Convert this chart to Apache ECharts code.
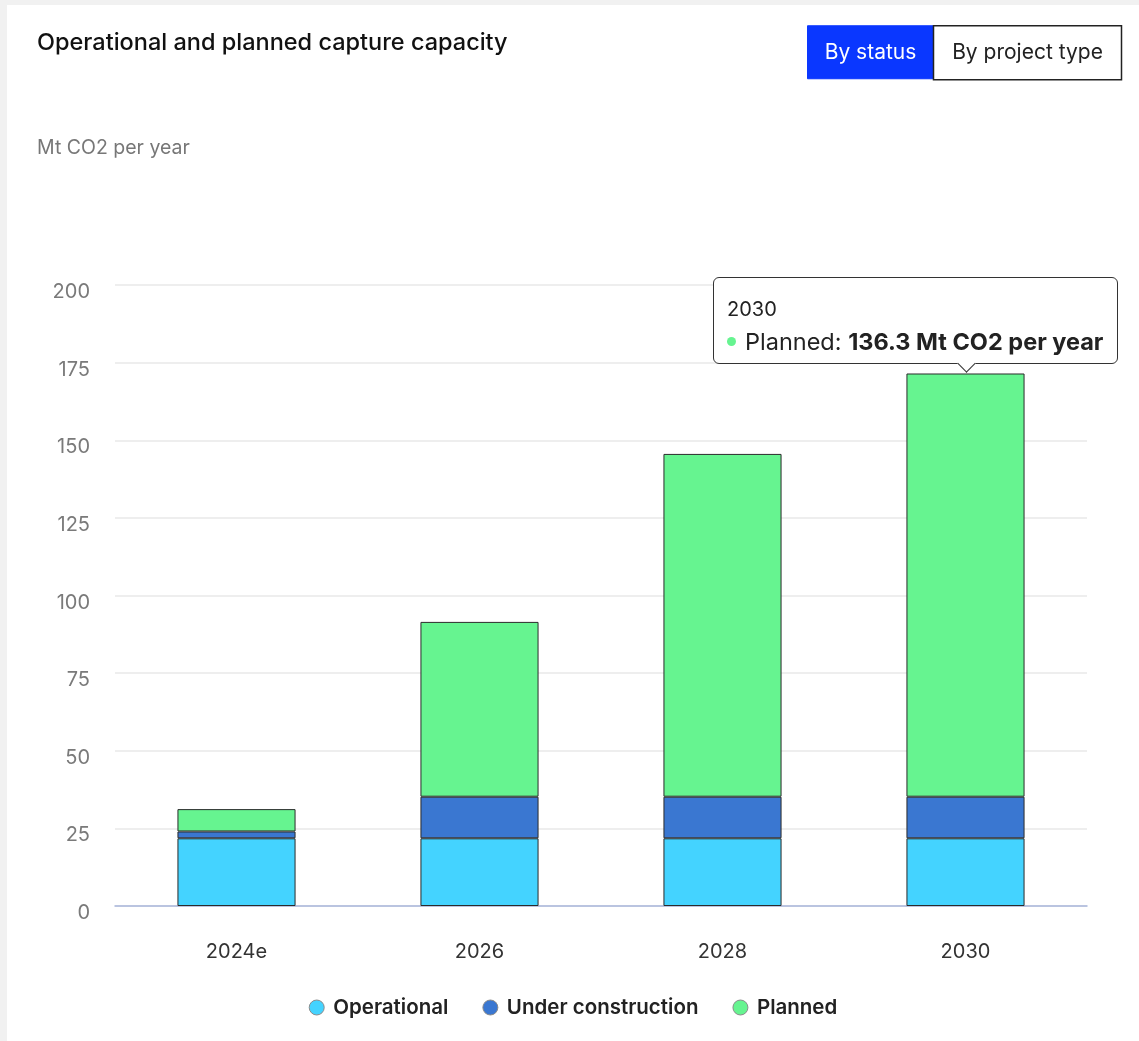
<!DOCTYPE html>
<html>
<head>
<meta charset="utf-8">
<title>Operational and planned capture capacity</title>
<script src="https://cdn.jsdelivr.net/npm/echarts@6/dist/echarts.min.js"></script>
<style>
  html, body { margin: 0; padding: 0; width: 1139px; height: 1041px; overflow: hidden; background: #f1f1f1; }
  #chart { position: absolute; left: 7px; top: 5px; width: 1132px; height: 1036px; background: #ffffff; }
</style>
</head>
<body>
<div id="chart"></div>
<script>
// Capture capacity by project status, Mt CO2 per year
const categories = ['2024e', '2026', '2028', '2030'];
const operational = [21.8, 21.8, 21.8, 21.8];
const underConstruction = [2.2, 13.4, 13.4, 13.4];
const planned = [7.2, 56.3, 110.4, 136.3];
const yTicks = [0, 25, 50, 75, 100, 125, 150, 175, 200];

const FONT = 'Inter, "Noto Sans", sans-serif';
const unit = 'Mt CO2 per year';

const colors = {
  operational: '#44d3ff',
  underConstruction: '#3a77d1',
  planned: '#66f490'
};

const chart = echarts.init(document.getElementById('chart'), null, { renderer: 'canvas' });

function barSeries(name, data, color) {
  return {
    name: name,
    type: 'bar',
    stack: 'status',
    data: data,
    barWidth: '48.6%',
    itemStyle: { color: color, borderColor: '#2b2b2b', borderWidth: 1 },
    emphasis: { disabled: true }
  };
}

const option = {
  animation: false,
  textStyle: { fontFamily: FONT },
  title: [
    {
      text: 'Operational and planned capture capacity',
      left: 30, top: 26, padding: 0,
      textStyle: { fontFamily: FONT, fontSize: 23.5, fontWeight: 500, color: '#111111' }
    },
    {
      text: unit,
      left: 30, top: 133, padding: 0,
      textStyle: { fontFamily: FONT, fontSize: 19.5, fontWeight: 400, color: '#777777' }
    }
  ],
  graphic: [
    {
      type: 'group', left: 800, top: 20,
      children: [
        { type: 'rect', shape: { x: 0, y: 0, width: 126, height: 53 },
          style: { fill: '#0a37ff', stroke: '#0a37ff', lineWidth: 1 } },
        { type: 'text', x: 63, y: 26.5,
          style: { text: 'By status', fill: '#ffffff', font: '400 21px ' + FONT, align: 'center', verticalAlign: 'middle' } },
        { type: 'rect', shape: { x: 126, y: 0, width: 188, height: 54 },
          style: { fill: '#ffffff', stroke: '#222222', lineWidth: 1.5 } },
        { type: 'text', x: 220, y: 27,
          style: { text: 'By project type', fill: '#222222', font: '400 21px ' + FONT, align: 'center', verticalAlign: 'middle' } }
      ]
    }
  ],
  grid: { left: 108, right: 52, top: 280, bottom: 135 },
  xAxis: {
    type: 'category',
    data: categories,
    axisLine: { show: true, lineStyle: { color: '#a9b6dc', width: 1.5 } },
    axisTick: { show: false },
    axisLabel: { color: '#333333', fontSize: 20, margin: 36, fontFamily: FONT }
  },
  yAxis: {
    type: 'value',
    min: yTicks[0],
    max: yTicks[yTicks.length - 1],
    interval: yTicks[1] - yTicks[0],
    axisLine: { show: false },
    axisTick: { show: false },
    axisLabel: {
      color: '#7a7a7a', fontSize: 20, margin: 25, fontFamily: FONT,
      verticalAlign: 'top', lineHeight: 14
    },
    splitLine: { lineStyle: { color: '#e8e8e8', width: 1.5 } }
  },
  legend: {
    bottom: 18,
    left: 'center',
    icon: 'circle',
    itemWidth: 15,
    itemHeight: 15,
    itemGap: 34,
    selectedMode: false,
    itemStyle: { borderColor: '#8a8a8a', borderWidth: 1 },
    textStyle: { fontFamily: FONT, fontSize: 20.5, fontWeight: 600, color: '#222222', padding: [0, 0, 0, 4] },
    data: ['Operational', 'Under construction', 'Planned']
  },
  tooltip: {
    trigger: 'item',
    triggerOn: 'none',
    alwaysShowContent: true,
    backgroundColor: '#ffffff',
    borderColor: '#333333',
    borderWidth: 1,
    padding: [18, 14, 8, 13],
    extraCssText: 'border-radius:6px; box-shadow:none; overflow:visible;',
    textStyle: { fontFamily: FONT, color: '#222222' },
    formatter: function (p) {
      return '<div style="position:relative;">' +
        '<div style="font-size:20px;line-height:26px;font-weight:400;color:#222;margin-bottom:7px;">' + p.name + '</div>' +
        '<div style="font-size:23.5px;line-height:26px;color:#222;white-space:nowrap;">' +
        '<span style="display:inline-block;width:9px;height:9px;border-radius:50%;background:' + p.color +
        ';margin-right:9px;vertical-align:middle;position:relative;top:-2px;"></span>' +
        p.seriesName + ': <b>' + p.value + ' ' + unit + '</b></div>' +
        '</div>' +
        '<div class="tip-arrow" style="position:absolute;bottom:-7px;width:12px;height:12px;background:#fff;' +
        'border-right:1px solid #333;border-bottom:1px solid #333;transform:rotate(45deg);"></div>';
    },
    position: function (point, params, dom, rect, size) {
      const w = size.contentSize[0];
      const h = size.contentSize[1];
      const cx = rect.x + rect.width / 2;
      let x = cx - w / 2;
      x = Math.min(x, size.viewSize[0] - w - 21);
      x = Math.max(x, 10);
      const y = rect.y - h - 9;
      const arrow = dom.querySelector('.tip-arrow');
      if (arrow) arrow.style.left = (cx - x - 7) + 'px';
      return [x, y];
    }
  },
  series: [
    barSeries('Operational', operational, colors.operational),
    barSeries('Under construction', underConstruction, colors.underConstruction),
    barSeries('Planned', planned, colors.planned)
  ]
};

chart.setOption(option);
setTimeout(function () {
  chart.dispatchAction({ type: 'showTip', seriesIndex: 2, dataIndex: 3 });
}, 50);
</script>
</body>
</html>
